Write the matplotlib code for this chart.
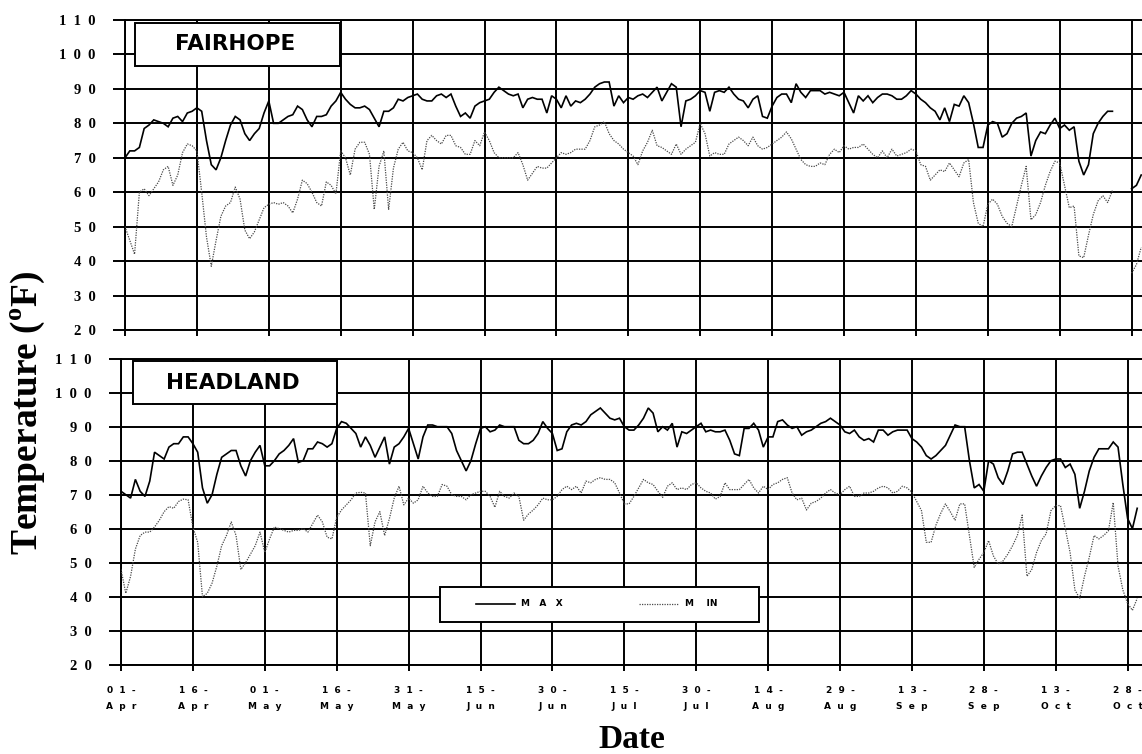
import numpy as np
import matplotlib
matplotlib.use("Agg")
import matplotlib.pyplot as plt
from matplotlib.patches import Rectangle
from matplotlib.lines import Line2D

nan = np.nan

# ---------------- data (daily values, starting 01-Apr) ----------------
START_DATE = "2001-04-01"

FAIRHOPE_MAX = [
    70, 72, 72, 73, 78.5, 79.5, 81, 80.5, 80, 79,
    81.5, 82, 80.5, 83, 83.5, 84.5, 83.5, 75, 68, 66.5,
    70, 75, 79.5, 82, 81, 77, 75, 77, 78.5, 83,
    86.5, 80, 80, 81, 82, 82.5, 85, 84, 81, 79,
    82, 82, 82.5, 85, 86.5, 89, 87, 85.5, 84.5, 84.5,
    85, 84, 81.5, 79, 83.5, 83.5, 84.5, 87, 86.5, 87.5,
    88, 88.5, 87, 86.5, 86.5, 88, 88.5, 87.5, 88.5, 85,
    82, 83, 81.5, 85, 86, 86.5, 87, 89, 90.5, 89.5,
    88.5, 88, 88.5, 84.5, 87, 87.5, 87, 87, 83, 88,
    87, 84.5, 88, 85, 86.5, 86, 87, 88.5, 90.5, 91.5,
    92, 92, 85, 88, 86, 87.5, 87, 88, 88.5, 87.5,
    89, 90.5, 86.5, 89, 91.5, 90.5, 79, 86.5, 87, 88,
    89.5, 89, 83.5, 89, 89.5, 89, 90.5, 88.5, 87, 86.5,
    84.5, 87, 88, 82, 81.5, 85, 87.5, 88.5, 88.5, 86,
    91.5, 89, 87.5, 89.5, 89.5, 89.5, 88.5, 89, 88.5, 88,
    89, 86, 83, 88, 86.5, 88, 86, 87.5, 88.5, 88.5,
    88, 87, 87, 88, 89.5, 88.5, 87, 86, 84.5, 83.5,
    81, 84.5, 80.5, 85.5, 85, 88, 86, 80, 73, 73,
    79.5, 80.5, 80, 76, 77, 80, 81.5, 82, 83, 70.5,
    75, 77.5, 77, 79.5, 81.5, 78.5, 79.5, 78, 79, 69,
    65, 68, 77, 80, 82, 83.5, 83.5, nan, nan, nan,
    61, 62, 65,
]

FAIRHOPE_MIN = [
    50, 46, 42, 60, 61, 59, 61, 63, 66.5, 67.5,
    62, 65, 71.5, 74, 73.5, 72, 60, 47, 38.5, 46,
    53, 56, 57, 61.5, 58, 49, 46.5, 48.5, 52, 55.5,
    56.5, 57, 56.5, 57, 56, 54, 58, 63.5, 62.5, 60,
    57, 56, 63, 62, 59.5, 72, 70, 65, 72.5, 74.5,
    74.5, 71, 55, 67.5, 72, 55, 67, 72.5, 74.5, 72,
    71.5, 70, 66.5, 75, 76.5, 75, 74, 76.5, 76.5, 73.5,
    73, 71, 71, 75, 73.5, 77.5, 75, 71.5, 70, 70,
    70, 70, 71.5, 68, 63.5, 65.5, 67.5, 67, 67, 68.5,
    70, 71.5, 71, 71.5, 72.5, 72.5, 72.5, 75, 79, 79.5,
    80.5, 77, 75, 74, 72.5, 71.5, 70.5, 68, 72, 74.5,
    78, 73.5, 73, 72, 71, 74, 71, 72.5, 73.5, 74.5,
    80, 77, 70.5, 71.5, 71, 71, 74, 75, 76, 75,
    73.5, 76, 73.5, 72.5, 73, 74, 75, 76, 77.5, 75.5,
    72.5, 69.5, 68, 67.5, 67.5, 68.5, 68, 71, 72.5, 71.5,
    73.5, 72.5, 73, 73, 74, 72.5, 71, 70, 72, 70,
    72.5, 70.5, 71, 71.5, 72.5, 72, 68, 67.5, 63.5, 65,
    66.5, 66, 68.5, 66.5, 64.5, 68.5, 69.5, 57, 51, 50,
    56.5, 58, 56.5, 53, 51, 50, 56, 62, 67.5, 52,
    53.5, 57, 62, 66, 69, 68.5, 62, 55.5, 56, 41.5,
    41, 47.5, 53.5, 57.5, 59, 57, 60.5, nan, nan, nan,
    36.5, 39, 44,
]

HEADLAND_MAX = [
    71, 70, 69, 74.5, 71, 69.5, 74, 82.5, 81.5, 80.5,
    84, 85, 85, 87, 87, 85, 82.5, 72, 67.5, 70,
    76, 81, 82, 83, 83, 78.5, 75.5, 80, 82.5, 84.5,
    78.5, 78.5, 80, 82, 83, 84.5, 86.5, 79.5, 80, 83.5,
    83.5, 85.5, 85, 84, 85, 89.5, 91.5, 91, 89.5, 88,
    84, 87, 84.5, 81, 84, 87, 79, 84, 85, 87,
    89.5, 85, 80.5, 87, 90.5, 90.5, 90, 90, 90, 88,
    83, 80, 77, 80, 85, 89.5, 90, 88.5, 89, 90.5,
    90, 90, 90, 86, 85, 85, 86, 88, 91.5, 89.5,
    88, 83, 83.5, 88.5, 90.5, 91, 90.5, 91.5, 93.5, 94.5,
    95.5, 94, 92.5, 92, 92.5, 90, 89, 89, 90.5, 92.5,
    95.5, 94, 88.5, 90, 89, 91, 84, 88.5, 88, 89,
    90, 91, 88.5, 89, 88.5, 88.5, 89, 86, 82, 81.5,
    89.5, 89.5, 91, 89, 84, 87, 87, 91.5, 92, 90.5,
    89.5, 90, 87.5, 88.5, 89, 90, 91, 91.5, 92.5, 91.5,
    90.5, 88.5, 88, 89, 87, 86, 86.5, 85.5, 89, 89,
    87.5, 88.5, 89, 89, 89, 86.5, 85.5, 84, 81.5, 80.5,
    81.5, 83, 84.5, 87.5, 90.5, 90, 90, 80, 72, 73,
    71, 80, 79, 75, 73, 77, 82, 82.5, 82.5, 79,
    75.5, 72.5, 75.5, 78, 80, 80.5, 80.5, 78, 79, 76,
    66, 71, 77, 81, 83.5, 83.5, 83.5, 85.5, 84, 73,
    63, 60, 66,
]

HEADLAND_MIN = [
    48, 41, 46, 54, 58, 59, 59, 60.5, 62.5, 65,
    66.5, 66, 68, 68.7, 68.5, 60.5, 56, 40, 41, 44,
    49, 55, 58, 62, 58, 48, 50, 52.5, 55, 59,
    53, 57, 60.5, 60, 59.5, 59, 59.5, 59.5, 60, 59,
    61.5, 64, 62, 57.5, 57, 63.3, 65.5, 67, 68.5, 70.5,
    70.7, 70.5, 55, 62, 65, 58, 63, 69, 72.5, 67,
    69, 67.5, 68.5, 72.5, 70.5, 69.5, 69.5, 73, 72.5, 70,
    69.5, 69.5, 68.5, 70, 70.5, 71, 71, 69.5, 66.3, 71,
    69.5, 69, 70.5, 69.5, 62.5, 64.3, 65.5, 67, 69, 68.5,
    68.5, 69.5, 71.5, 72.5, 71.5, 72.5, 70.5, 74, 73.5, 74.5,
    75, 74.5, 74.5, 73.5, 70.5, 67.3, 67.3, 69.5, 72, 74.5,
    73.5, 73, 71, 69.2, 72.5, 73.5, 71.5, 72, 71.5, 73,
    73.5, 72, 71, 70.5, 68.7, 69.5, 73.5, 71.5, 71.5, 71.5,
    73, 74.5, 72, 70.5, 72.5, 71.5, 73, 73.5, 74.5, 75,
    70.5, 68.5, 69, 65.5, 67.5, 68, 69, 70.5, 71.5, 70.5,
    70, 71.5, 72.5, 69.5, 69.5, 70.5, 70.5, 71, 72, 72.5,
    72, 70.5, 71, 72.5, 72, 70.7, 68, 65.3, 56, 56,
    61, 64.5, 67.3, 65, 62.5, 67.3, 67.3, 58, 48.6, 51,
    53, 56.5, 52, 49.6, 50.5, 52.5, 55, 58, 64, 46,
    48, 53, 56.5, 58.5, 65.3, 66.8, 66.8, 60, 53, 42,
    39.5, 46, 51.6, 58, 57, 58, 59.4, 67.7, 49, 42,
    38, 36, 39.5,
]

TICK_LABELS = ["01-Apr", "16-Apr", "01-May", "16-May", "31-May", "15-Jun", "30-Jun",
               "15-Jul", "30-Jul", "14-Aug", "29-Aug", "13-Sep", "28-Sep", "13-Oct", "28-Oct"]
Y_TICKS = [20, 30, 40, 50, 60, 70, 80, 90, 100, 110]
STATIONS = ["FAIRHOPE", "HEADLAND"]
SERIES_NAMES = ["MAX", "MIN"]

for s in (FAIRHOPE_MAX, FAIRHOPE_MIN, HEADLAND_MAX, HEADLAND_MIN):
    assert len(s) == 213, len(s)

# ---------------- figure ----------------
W, H = 1142, 754
fig = plt.figure(figsize=(W / 100, H / 100), dpi=100)
fig.patch.set_facecolor("white")

start = np.datetime64(START_DATE)
dates = start + np.arange(len(FAIRHOPE_MAX)).astype("timedelta64[D]")
month_num = {"Apr": 4, "May": 5, "Jun": 6, "Jul": 7, "Aug": 8, "Sep": 9, "Oct": 10}
tick_dates = [np.datetime64("2001-%02d-%s" % (month_num[t[3:]], t[:2])) for t in TICK_LABELS]
tick_text = ["  ".join(t[:3]) + "\n" + "  ".join(t[3:]) for t in TICK_LABELS]


def px_axes(left, top, right, bottom):
    return fig.add_axes([left / W, 1 - bottom / H, (right - left) / W, (bottom - top) / H])


GRID_LW = 1.4
ax_top = px_axes(125, 20, 1146, 330)
ax_bot = px_axes(121, 358.7, 1142, 664.7)

panels = [
    (ax_top, STATIONS[0], FAIRHOPE_MAX, FAIRHOPE_MIN, (135, 23, 340, 66), (125, 20, 1146, 330)),
    (ax_bot, STATIONS[1], HEADLAND_MAX, HEADLAND_MIN, (133, 361, 337, 404), (121, 358.7, 1142, 664.7)),
]

max_style = dict(color="black", lw=1.2, solid_joinstyle="miter")
min_style = dict(color="#4a4a4a", lw=0.9, linestyle=(0, (1.0, 1.0)))

for ax, name, smax, smin, box, apos in panels:
    ax.plot(dates, smax, zorder=3, **max_style)
    ax.plot(dates, smin, zorder=3, **min_style)
    ax.set_xlim(start, start + np.timedelta64(213, "D"))
    ax.set_ylim(20, 110)
    ax.set_yticks(Y_TICKS)
    ax.set_yticklabels(["  ".join(str(v)) for v in Y_TICKS],
                       fontfamily="Liberation Serif", fontweight="bold", fontsize=10.5)
    ax.set_xticks(tick_dates)
    ax.grid(True, color="black", lw=GRID_LW, zorder=1)
    ax.set_axisbelow(True)
    ax.tick_params(axis="y", length=9, width=GRID_LW, pad=12, direction="out")
    ax.tick_params(axis="x", length=4, width=GRID_LW, pad=11, direction="out")
    for side in ("left", "top", "bottom"):
        ax.spines[side].set_linewidth(GRID_LW)
        ax.spines[side].set_color("black")
    ax.spines["right"].set_visible(False)

    # station title box
    L, T, R, B = apos
    bl, bt, br, bb = box
    x0 = (bl - L) / (R - L)
    x1 = (br - L) / (R - L)
    y1 = 1 - (bt - T) / (B - T)
    y0 = 1 - (bb - T) / (B - T)
    ax.add_patch(Rectangle((x0, y0), x1 - x0, y1 - y0, transform=ax.transAxes,
                           facecolor="white", edgecolor="black", lw=1.4, zorder=6, clip_on=False))
    ax.text((x0 + x1) / 2 - 0.002, (y0 + y1) / 2, name, transform=ax.transAxes,
            ha="center", va="center", fontsize=15.5, fontweight="heavy",
            fontfamily="DejaVu Sans", zorder=7)

ax_top.tick_params(axis="x", labelbottom=False)
ax_bot.set_xticklabels(tick_text, fontsize=6.5, fontweight="bold", fontfamily="DejaVu Sans",
                       linespacing=2.0)

# ---------------- legend box (bottom panel) ----------------
L, T, R, B = 121, 358.7, 1142, 664.7


def fx(px):
    return (px - L) / (R - L)


def fy(py):
    return 1 - (py - T) / (B - T)


ax_bot.add_patch(Rectangle((fx(440), fy(622)), fx(759) - fx(440), fy(587) - fy(622),
                           transform=ax_bot.transAxes, facecolor="white", edgecolor="black",
                           lw=1.4, zorder=6, clip_on=False))
ax_bot.add_line(Line2D([fx(476), fx(515)], [fy(604), fy(604)], transform=ax_bot.transAxes,
                       zorder=7, **max_style))
ax_bot.add_line(Line2D([fx(639), fx(679)], [fy(604), fy(604)], transform=ax_bot.transAxes,
                       zorder=7, **min_style))
ax_bot.text(fx(521), fy(604), "M   A   X", transform=ax_bot.transAxes, ha="left", va="center",
            fontsize=6.5, fontweight="bold", fontfamily="DejaVu Sans", zorder=7)
ax_bot.text(fx(685), fy(604), "M    IN", transform=ax_bot.transAxes, ha="left", va="center",
            fontsize=6.5, fontweight="bold", fontfamily="DejaVu Sans", zorder=7)

# ---------------- axis titles ----------------
fig.text(28 / W, 1 - 413 / H, r"Temperature ($^{\mathregular{o}}$F)", rotation=90,
         ha="center", va="center", fontsize=27, fontweight="bold", fontfamily="Liberation Serif")
fig.text(632 / W, 1 - 739 / H, "Date", ha="center", va="center", fontsize=24,
         fontweight="bold", fontfamily="Liberation Serif")

fig.savefig("out.png", dpi=100, facecolor="white")
